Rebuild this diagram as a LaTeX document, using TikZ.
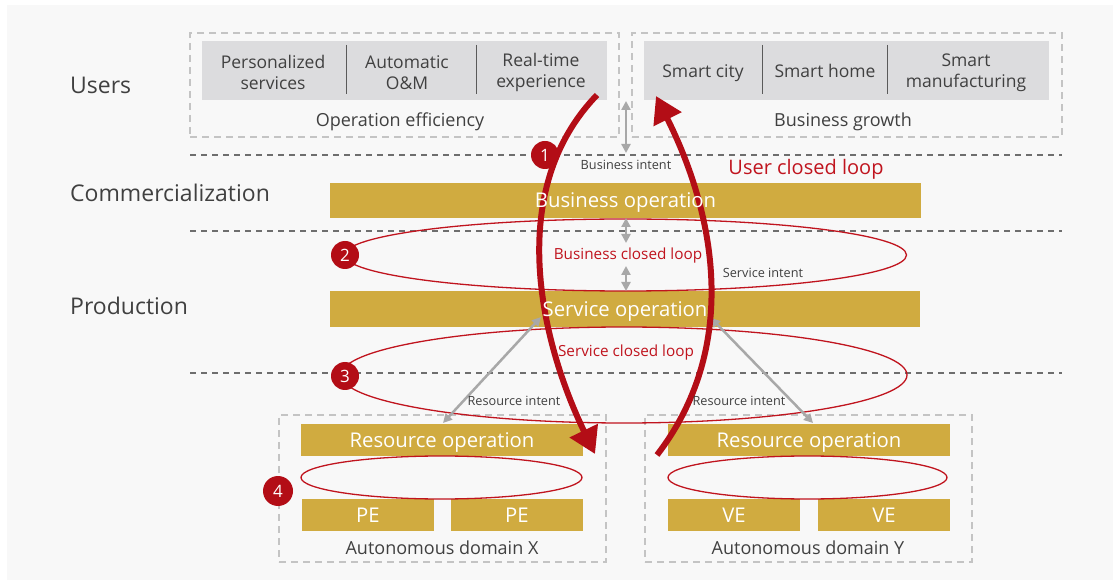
\documentclass[tikz,border=0pt]{standalone}
\usepackage{fontspec}
\setmainfont{Open Sans}
\usetikzlibrary{arrows.meta,shapes.geometric}
\definecolor{bg}{HTML}{F8F8F8}
\definecolor{gold}{HTML}{D0AB40}
\definecolor{boxgray}{HTML}{DCDCDE}
\definecolor{txt}{HTML}{404040}
\definecolor{hred}{HTML}{B30D16}
\definecolor{lred}{HTML}{C0141E}
\definecolor{arrgray}{HTML}{A8A8A8}
\definecolor{dashbox}{HTML}{C4C4C4}
\definecolor{dashline}{HTML}{6E6E6E}
\definecolor{divline}{HTML}{5A5A5A}
\begin{document}
\begin{tikzpicture}[x=1pt,y=-1pt,
  layerlabel/.style={anchor=base west,text=txt,font=\fontsize{23}{26}\selectfont,inner sep=0pt},
  dbox/.style={draw=dashbox,line width=1.2pt,dash pattern=on 7pt off 5pt,inner sep=0pt},
  graybox/.style={fill=boxgray,inner sep=0pt},
  boxtext/.style={align=center,text=txt,font=\fontsize{17.5}{21}\selectfont,inner sep=0pt},
  caption/.style={anchor=base,text=txt,font=\fontsize{18}{20}\selectfont,inner sep=0pt},
  bar/.style={fill=gold,inner sep=0pt},
  bartext/.style={text=white,inner sep=0pt,text height=14.6pt,text depth=0pt,font=\fontsize{20.3}{22}\selectfont},
  loopell/.style={draw=lred,line width=1.3pt},
  intent/.style={anchor=base,text=txt,font=\fontsize{12.7}{14}\selectfont,inner sep=0pt},
  looplabel/.style={anchor=base,text=lred,font=\fontsize{15.3}{17}\selectfont,inner sep=0pt},
  numc/.style={circle,fill=hred,text=white,minimum size=28pt,inner sep=0pt,font=\fontsize{17}{18}\selectfont},
  grayarrow/.style={draw=arrgray,line width=2.5pt,{Triangle[length=9pt,width=9pt]}-{Triangle[length=9pt,width=9pt]}},
  redarrow/.style={draw=hred,line width=6pt,-{Triangle[length=26pt,width=30pt]}},
  hdash/.style={draw=dashline,line width=1.2pt,dash pattern=on 6pt off 5pt},
  divider/.style={draw=divline,line width=1pt}
]
\useasboundingbox (0,0) rectangle (1120,585);
\fill[white] (0,0) rectangle (1120,585);
\fill[bg] (7,5) rectangle (1113,580);

% layer separators
\coordinate (h1a) at (190,155); \coordinate (h1b) at (1062,155);
\coordinate (h2a) at (190,231); \coordinate (h2b) at (1062,231);
\coordinate (h3a) at (190,373); \coordinate (h3b) at (1062,373);
\draw[hdash] (h1a) -- (h1b);
\draw[hdash] (h2a) -- (h2b);
\draw[hdash] (h3a) -- (h3b);

% layer labels
\node[layerlabel] (lusers) at (70,94) {Users};
\node[layerlabel] (lcomm) at (70,202) {Commercialization};
\node[layerlabel] (lprod) at (70,315) {Production};

% top dashed boxes
\node[dbox,minimum width=429pt,minimum height=104pt] (dl) at (404.5,85) {};
\node[dbox,minimum width=430pt,minimum height=104pt] (dr) at (847,85) {};
\node[graybox,minimum width=405pt,minimum height=59pt] (gl) at (404.5,70.5) {};
\node[graybox,minimum width=405pt,minimum height=59pt] (gr) at (846.5,70.5) {};
\coordinate (d1t) at (346,45); \coordinate (d1b) at (346,94);
\coordinate (d2t) at (476,45); \coordinate (d2b) at (476,94);
\coordinate (d3t) at (762,45); \coordinate (d3b) at (762,94);
\coordinate (d4t) at (887,45); \coordinate (d4b) at (887,94);
\draw[divider] (d1t) -- (d1b);
\draw[divider] (d2t) -- (d2b);
\draw[divider] (d3t) -- (d3b);
\draw[divider] (d4t) -- (d4b);
\node[boxtext] (t1) at (273,72.5) {Personalized\\services};
\node[boxtext] (t2) at (407,72.5) {Automatic\\O\&M};
\node[boxtext] (t3) at (541,72.5) {Real-time\\experience};
\node[boxtext,anchor=base] (t4) at (703,77.5) {Smart city};
\node[boxtext,anchor=base] (t5) at (825,77.5) {Smart home};
\node[boxtext] (t6) at (966,72.5) {Smart\\manufacturing};
\node[caption] (opeff) at (400,127) {Operation efficiency};
\node[caption] (bgrow) at (843,127) {Business growth};

% bars
\node[bar,minimum width=591pt,minimum height=35pt] (bop) at (625.5,200.5) {};
\node[bar,minimum width=590pt,minimum height=36pt] (sop) at (625,309) {};

% autonomous domains
\node[dbox,minimum width=327pt,minimum height=147pt] (dx) at (442.5,488.5) {};
\node[dbox,minimum width=327pt,minimum height=147pt] (dy) at (808.5,488.5) {};
\node[bar,minimum width=282pt,minimum height=32pt] (rox) at (442,440) {};
\node[bar,minimum width=282pt,minimum height=32pt] (roy) at (809,440) {};
\node[bar,minimum width=132pt,minimum height=32pt] (pe1) at (368,515) {};
\node[bar,minimum width=132pt,minimum height=32pt] (pe2) at (517,515) {};
\node[bar,minimum width=132pt,minimum height=32pt] (ve1) at (734,515) {};
\node[bar,minimum width=132pt,minimum height=32pt] (ve2) at (884,515) {};
\node[caption] (adx) at (442,554) {Autonomous domain X};
\node[caption] (ady) at (808,554) {Autonomous domain Y};

% closed loops
\coordinate (e2) at (625.5,255);
\coordinate (e3) at (624,375);
\coordinate (e4) at (441.5,477.5);
\coordinate (e5) at (807.5,477.5);
\draw[loopell] (e2) ellipse [x radius=281pt,y radius=36pt];
\draw[loopell] (e3) ellipse [x radius=283pt,y radius=48pt];
\draw[loopell] (e4) ellipse [x radius=140.5pt,y radius=21.5pt];
\draw[loopell] (e5) ellipse [x radius=139.5pt,y radius=21.5pt];

% gray intent arrows
\coordinate (a1t) at (626,101); \coordinate (a1b) at (626,153);
\coordinate (a2t) at (626,218); \coordinate (a2b) at (626,243);
\coordinate (a3t) at (626,266); \coordinate (a3b) at (626,291);
\coordinate (a4t) at (541,317); \coordinate (a4b) at (443,423);
\coordinate (a5t) at (711,318); \coordinate (a5b) at (813,423);
\draw[grayarrow] (a1t) -- (a1b);
\draw[grayarrow] (a2t) -- (a2b);
\draw[grayarrow] (a3t) -- (a3b);
\draw[grayarrow] (a4t) -- (a4b);
\draw[grayarrow] (a5t) -- (a5b);

% user closed loop arrows
\coordinate (r1s) at (597,95); \coordinate (r1e) at (595,454);
\coordinate (r2s) at (657,455); \coordinate (r2e) at (656,96);
\draw[redarrow] (r1s) .. controls (505,190) and (540,340) .. (r1e);
\draw[redarrow] (r2s) .. controls (738,350) and (718,220) .. (r2e);

% bar texts
\node[bartext] (bopt) at (bop) {Business operation};
\node[bartext] (sopt) at (sop) {Service operation};
\node[bartext] (roxt) at (rox) {Resource operation};
\node[bartext] (royt) at (roy) {Resource operation};
\node[bartext] (pe1t) at (pe1) {PE};
\node[bartext] (pe2t) at (pe2) {PE};
\node[bartext] (ve1t) at (ve1) {VE};
\node[bartext] (ve2t) at (ve2) {VE};

% labels
\node[intent] (bint) at (626,170) {Business intent};
\node[intent] (sint) at (763,278) {Service intent};
\node[intent] (rint1) at (514,406) {Resource intent};
\node[intent] (rint2) at (739,406) {Resource intent};
\node[looplabel] (bcl) at (628,260) {Business closed loop};
\node[looplabel] (scl) at (626,357) {Service closed loop};
\node[anchor=base,text=lred,font=\fontsize{20}{22}\selectfont,inner sep=0pt] (ucl) at (806,175) {User closed loop};

% step numbers
\node[numc] (n1) at (545,155) {1};
\node[numc] (n2) at (345,255) {2};
\node[numc] (n3) at (345,376) {3};
\node[numc,minimum size=30pt] (n4) at (278,491) {4};
\end{tikzpicture}
\end{document}
